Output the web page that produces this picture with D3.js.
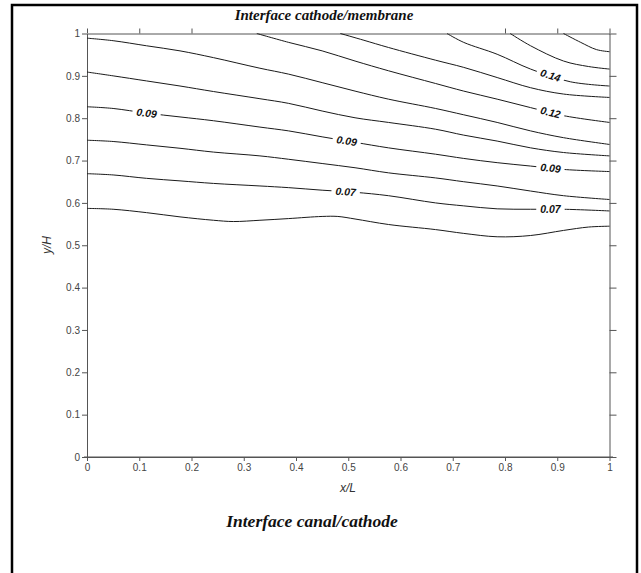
<!DOCTYPE html>
<html>
<head>
<meta charset="utf-8">
<script src="https://cdn.jsdelivr.net/npm/d3@7"></script>
<style>
  body { margin: 0; background: #fff; }
  svg { display: block; }
  .tick text { font-family: "Liberation Sans", Arial, sans-serif; font-size: 10px; fill: #444; }
  .axis path, .axis line { stroke: #555; }
</style>
</head>
<body>
<svg width="641" height="573"></svg>
<script>
// tick values on both axes
var xTicks = [0, 0.1, 0.2, 0.3, 0.4, 0.5, 0.6, 0.7, 0.8, 0.9, 1];
var yTicks = [0, 0.1, 0.2, 0.3, 0.4, 0.5, 0.6, 0.7, 0.8, 0.9, 1];
var topTicks = [0, 0.1, 0.2, 0.8, 0.9, 1];

// contour levels and the iso-lines, [x/L, y/H]
var contourLevels = [0.06, 0.07, 0.08, 0.09, 0.10, 0.11, 0.12, 0.13, 0.14, 0.15, 0.16];

var c06 = [[0,0.587],[0.05,0.585],[0.114,0.577],[0.178,0.567],[0.242,0.559],[0.28,0.556],[0.331,0.559],[0.386,0.563],[0.45,0.568],[0.48,0.568],[0.513,0.562],[0.577,0.549],[0.667,0.537],[0.721,0.528],[0.785,0.52],[0.849,0.523],[0.912,0.535],[0.96,0.543],[1,0.545]];
var c07 = [[0,0.669],[0.05,0.666],[0.114,0.658],[0.178,0.652],[0.242,0.646],[0.331,0.640],[0.386,0.636],[0.45,0.630],[0.513,0.625],[0.577,0.617],[0.667,0.600],[0.721,0.593],[0.785,0.586],[0.849,0.585],[0.912,0.585],[1,0.581]];
var c08 = [[0,0.748],[0.05,0.745],[0.114,0.737],[0.178,0.729],[0.242,0.720],[0.331,0.711],[0.386,0.703],[0.45,0.693],[0.513,0.683],[0.577,0.671],[0.667,0.659],[0.721,0.650],[0.785,0.640],[0.849,0.628],[0.912,0.617],[1,0.608]];
var c09 = [[0,0.827],[0.05,0.823],[0.114,0.812],[0.178,0.803],[0.242,0.794],[0.331,0.779],[0.386,0.770],[0.45,0.756],[0.513,0.743],[0.577,0.730],[0.667,0.715],[0.721,0.705],[0.785,0.695],[0.849,0.687],[0.912,0.679],[1,0.674]];
var c10 = [[0,0.909],[0.05,0.900],[0.114,0.888],[0.178,0.876],[0.242,0.863],[0.331,0.846],[0.386,0.835],[0.45,0.817],[0.513,0.801],[0.577,0.790],[0.667,0.774],[0.721,0.760],[0.785,0.746],[0.849,0.730],[0.912,0.719],[1,0.711]];
var c11 = [[0,0.989],[0.05,0.983],[0.114,0.971],[0.178,0.959],[0.242,0.943],[0.331,0.918],[0.386,0.904],[0.45,0.884],[0.513,0.864],[0.577,0.845],[0.667,0.823],[0.721,0.808],[0.785,0.790],[0.849,0.770],[0.912,0.754],[1,0.738]];
var c12 = [[0.325,1],[0.386,0.979],[0.45,0.959],[0.513,0.935],[0.577,0.912],[0.667,0.882],[0.721,0.864],[0.785,0.845],[0.849,0.825],[0.912,0.806],[1,0.790]];
var c13 = [[0.485,1],[0.53,0.984],[0.577,0.967],[0.667,0.937],[0.721,0.920],[0.785,0.896],[0.849,0.872],[0.912,0.857],[1,0.849]];
var c14 = [[0.689,1],[0.721,0.979],[0.785,0.951],[0.849,0.916],[0.925,0.886],[1,0.876]];
var c15 = [[0.81,1],[0.849,0.971],[0.912,0.935],[0.96,0.922],[1,0.916]];
var c16 = [[0.912,1],[0.945,0.979],[0.975,0.962],[1,0.957]];

// inline labels: which level, and where along x/L
var labelLevels = [0.09, 0.09, 0.07, 0.14, 0.12, 0.09, 0.07];
var labelX = [0.114, 0.497, 0.495, 0.887, 0.887, 0.887, 0.887];

var contourLines = [c06, c07, c08, c09, c10, c11, c12, c13, c14, c15, c16];

var svg = d3.select('svg');

// outer frame
svg.append('rect')
  .attr('x', 12).attr('y', 5).attr('width', 625).attr('height', 600)
  .attr('fill', 'none').attr('stroke', '#000').attr('stroke-width', 2.5);

var x = d3.scaleLinear().domain([0, 1]).range([87, 609.5]);
var y = d3.scaleLinear().domain([0, 1]).range([457, 33.5]);

var fmt = function(d) { return String(d); };

svg.append('g').attr('class', 'axis')
  .attr('transform', 'translate(0,457)')
  .call(d3.axisBottom(x).tickValues(xTicks).tickFormat(fmt).tickSize(4).tickPadding(3).tickSizeOuter(0));

svg.append('g').attr('class', 'axis')
  .attr('transform', 'translate(87,0)')
  .call(d3.axisLeft(y).tickValues(yTicks).tickFormat(fmt).tickSize(5).tickPadding(2).tickSizeOuter(0));

svg.append('g').attr('class', 'axis')
  .attr('transform', 'translate(0,33.5)')
  .call(d3.axisTop(x).tickValues(topTicks).tickFormat('').tickSize(5).tickSizeOuter(0));

svg.append('g').attr('class', 'axis')
  .attr('transform', 'translate(609.5,0)')
  .call(d3.axisRight(y).tickValues(yTicks).tickFormat('').tickSize(7).tickSizeOuter(0));

// bottom line runs a bit past the corners
svg.append('line')
  .attr('x1', 84).attr('x2', 613).attr('y1', 457).attr('y2', 457)
  .attr('stroke', '#555');

var line = d3.line()
  .x(function(d) { return x(d[0]); })
  .y(function(d) { return y(d[1]); })
  .curve(d3.curveCatmullRom.alpha(0.5));

svg.append('g')
  .selectAll('path')
  .data(contourLines)
  .enter()
  .append('path')
  .attr('d', line)
  .attr('fill', 'none')
  .attr('stroke', '#1a1a1a')
  .attr('stroke-width', 1);

// y on a contour at a given x (piecewise linear is fine for placing labels)
function yAt(pts, xv) {
  for (var i = 1; i < pts.length; i++) {
    if (xv <= pts[i][0]) {
      var t = (xv - pts[i-1][0]) / (pts[i][0] - pts[i-1][0]);
      return pts[i-1][1] + t * (pts[i][1] - pts[i-1][1]);
    }
  }
  return pts[pts.length - 1][1];
}

var labels = svg.append('g');
labelLevels.forEach(function(lv, i) {
  var pts = contourLines[contourLevels.indexOf(lv)];
  var xv = labelX[i];
  var px = x(xv), py = y(yAt(pts, xv));
  var dx = 0.02;
  var ang = Math.atan2(y(yAt(pts, xv + dx)) - y(yAt(pts, xv - dx)), x(xv + dx) - x(xv - dx)) * 180 / Math.PI;
  var g = labels.append('g').attr('transform', 'translate(' + px + ',' + py + ') rotate(' + ang + ')');
  var bg = g.append('rect').attr('fill', '#fff');
  var t = g.append('text')
    .attr('text-anchor', 'middle')
    .attr('dy', '0.35em')
    .style('font-family', '"Liberation Sans", Arial, sans-serif')
    .style('font-size', '10.5px')
    .style('font-weight', 'bold')
    .style('font-style', 'italic')
    .attr('fill', '#111')
    .text(lv.toFixed(2));
  var w = t.node().getComputedTextLength() + 8;
  bg.attr('x', -w / 2).attr('y', -5).attr('width', w).attr('height', 10);
});

// titles
svg.append('text')
  .attr('x', 324).attr('y', 20)
  .attr('text-anchor', 'middle')
  .style('font-family', '"Liberation Serif", "Times New Roman", serif')
  .style('font-size', '15px').style('font-weight', 'bold').style('font-style', 'italic')
  .attr('fill', '#111')
  .text('Interface cathode/membrane');

svg.append('text')
  .attr('x', 312).attr('y', 527)
  .attr('text-anchor', 'middle')
  .style('font-family', '"Liberation Serif", "Times New Roman", serif')
  .style('font-size', '17.5px').style('font-weight', 'bold').style('font-style', 'italic')
  .attr('fill', '#111')
  .text('Interface canal/cathode');

svg.append('text')
  .attr('x', 348).attr('y', 492)
  .attr('text-anchor', 'middle')
  .style('font-family', '"Liberation Sans", Arial, sans-serif')
  .style('font-size', '12px').style('font-style', 'italic')
  .attr('fill', '#333')
  .text('x/L');

svg.append('text')
  .attr('transform', 'translate(51,245) rotate(-90)')
  .attr('text-anchor', 'middle')
  .style('font-family', '"Liberation Sans", Arial, sans-serif')
  .style('font-size', '12px').style('font-style', 'italic')
  .attr('fill', '#333')
  .text('y/H');
</script>
</body>
</html>
